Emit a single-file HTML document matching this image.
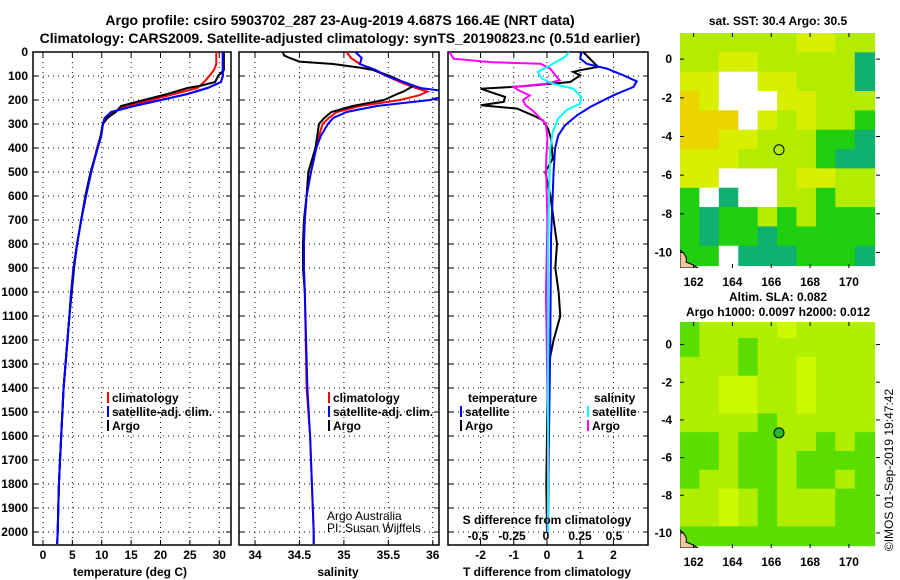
<!DOCTYPE html>
<html><head><meta charset="utf-8">
<style>
body{margin:0;background:#fff;}
svg{display:block;font-family:"Liberation Sans",Arial,sans-serif;}
text{font-weight:bold;font-size:12px;fill:#000;}
</style></head>
<body>
<svg id="chart" width="900" height="580" viewBox="0 0 900 580">
<text x="340" y="25" text-anchor="middle" style="font-size:14px">Argo profile: csiro 5903702_287 23-Aug-2019 4.687S 166.4E (NRT data)</text>
<text x="340" y="43" text-anchor="middle" style="font-size:14px">Climatology: CARS2009. Satellite-adjusted climatology: synTS_20190823.nc (0.51d earlier)</text>
</svg>
<script>
// ---- data ----
const depthTicks=[0,100,200,300,400,500,600,700,800,900,1000,1100,1200,1300,1400,1500,1600,1700,1800,1900,2000];
const tempTicks=[0,5,10,15,20,25,30];
const salTicks=[34,34.5,35,35.5,36];
const salTickLabels=["34","34.5","35","35.5","36"];
const tdTicks=[-2,-1,0,1,2];
const sdTicks=[-0.5,-0.25,0,0.25,0.5];
const sdTickLabels=["-0.5","-0.25","0","0.25","0.5"];

const tDepthClim=[0,50,75,100,125,150,175,200,225,250,275,300,350,400,500,600,700,800,900,1000,1100,1400,1600,1800,2000,2050];
const tClim=[29.5,29.5,29.1,28.3,27.4,26.3,22.3,18.4,14.1,12.1,11.0,10.2,9.8,9.2,8.2,7.3,6.5,5.8,5.2,4.8,4.5,3.5,3.1,2.7,2.5,2.4];
const tDepthSat=[0,100,125,150,175,200,225,250,275,300,350,400,500,600,700,800,900,1000,1100,1400,1600,1800,2000,2050];
const tSat=[30.6,30.6,30.3,28.0,24.6,20.1,15.5,11.6,10.5,10.2,9.9,9.3,8.2,7.3,6.5,5.8,5.2,4.8,4.5,3.5,3.1,2.7,2.5,2.4];
const tDepthArgo=[0,50,75,100,125,140,150,175,200,225,250,275,300,350,400,500,600,700,800,900,1000,1100,1400,1600,1800,2000];
const tArgo=[30.8,30.8,30.8,29.8,29.3,26.9,24.6,21.2,17.2,13.3,12.4,10.9,10.2,9.8,9.3,8.1,7.2,6.5,5.8,5.3,4.9,4.5,3.5,3.1,2.7,2.5];

const sDepthClim=[0,25,50,75,100,125,150,165,180,200,225,250,275,300,350,400,500,600,700,800,900,1000,1400,1600,1800,2000,2050];
const sClim=[35.03,35.08,35.18,35.33,35.48,35.63,35.81,35.94,35.85,35.63,35.18,34.92,34.83,34.76,34.72,34.69,34.63,34.58,34.56,34.55,34.55,34.56,34.58,34.62,34.64,34.66,34.66];
const sDepthSat=[0,25,50,75,100,125,150,160,175,190,200,225,250,275,300,350,400,500,600,700,800,900,1000,1400,1600,1800,2000,2050];
const sSat=[35.13,35.2,35.18,35.36,35.48,35.67,35.86,36.07,36.2,36.07,35.97,35.37,35.03,34.88,34.82,34.74,34.69,34.63,34.58,34.56,34.55,34.55,34.56,34.59,34.62,34.64,34.66,34.66];
const sDepthArgo=[0,15,25,40,50,65,75,100,125,140,150,165,175,200,225,250,275,300,350,400,500,600,700,800,900,1000];
const sArgo=[34.31,34.33,34.39,34.5,34.88,35.18,35.33,35.52,35.67,35.78,35.74,35.67,35.6,35.45,35.1,34.86,34.78,34.72,34.7,34.68,34.6,34.58,34.55,34.54,34.54,34.56];

const dDepthTArgo=[0,42,62,76,83,97,125,143,153,167,187,208,222,236,264,285,319,361,444,500,597,800,900,1000,1100,1200,1300,1400,1600,1800,2000];
const dTArgo=[1.09,1.39,1.54,1.0,0.79,1.0,0.7,-0.72,-2.0,-1.7,-1.26,-1.3,-2.0,-0.9,-0.42,-0.12,0.03,0.12,0.17,-0.05,0.1,0.3,0.25,0.35,0.4,0.2,0.05,0.02,0.0,-0.02,0.0];
const dDepthTSat=[0,28,49,69,97,122,146,174,201,229,264,306,347,403,500,778,1200,1600,2000];
const dTSat=[1.04,1.0,1.2,1.8,2.3,2.7,2.6,2.1,1.7,1.3,0.9,0.54,0.34,0.24,0.2,0.12,0.1,0.06,0.03];
const dDepthSSat=[0,20,56,83,111,132,153,187,215,243,278,333,403,800,1400,2000];
const dSSat=[0.17,0.14,0.03,-0.06,-0.03,0.05,0.2,0.26,0.25,0.15,0.09,0.05,0.03,0.015,0.015,0.015];
const dDepthSArgo=[0,28,42,49,69,97,118,132,146,160,181,201,222,243,278,299,361,472,700,1000,1400,1700,2000];
const dSArgo=[-0.71,-0.68,-0.41,-0.04,0.03,0.07,0.1,0.0,-0.24,-0.2,-0.12,-0.17,-0.15,-0.1,-0.04,0.0,0.01,0.0,0.01,0.0,0.01,0.02,0.01];

// map grids (1 degree cells, rows from north to south)
const sstGrid=["LLLLLLYYLL","LLYYLLLLLT","YYWWYYLLLT","OYWWWYYLLL","OOOWYLYLLG","OOYYLLLGGT","YYYLLLLGTT","YYWWWLYYLL","GWTWWLLGLL","GTGGLGLGGG","GTGGTGGGGG","GGWTTTGGGT"];
const slaGrid=["GLLLLYLLLL","GLLGLLLLLL","LLLGLLYLLL","LLYYLLYLLL","LLYYLLYLLL","LLLLGLLLLL","GGLGGLLGLG","GGLGGLGGGG","GLLGGLGGLG","LLYLGLLLGG","LLYLGLLLGG","GGGGGGGGGG"];
const lonTicks=[162,164,166,168,170];
const latTicks=[0,-2,-4,-6,-8,-10];

const svg=document.getElementById('chart');
const NS="http://www.w3.org/2000/svg";
function mk(tag,attrs,parent){const e=document.createElementNS(NS,tag);for(const k in attrs)e.setAttribute(k,attrs[k]);(parent||svg).appendChild(e);return e;}
function txt(x,y,s,anchor,parent,extra){const t=mk('text',Object.assign({x:x,y:y,'text-anchor':anchor||'start'},extra||{}),parent);t.textContent=s;return t;}

const Y0=52,PY=0.24,YB=545;
const yD=d=>Y0+d*PY;
const panels=[
 {x0:33,x1:231,min:-1.7,max:32.0,name:'temperature'},
 {x0:239,x1:439,min:33.82,max:36.07,name:'salinity'},
 {x0:448,x1:648,min:-2.98,max:3.04,name:'difference'}
];
function xf(p,v){return p.x0+(v-p.min)/(p.max-p.min)*(p.x1-p.x0);}
const sdX=v=>546+v*136;

// clip paths
const defs=mk('defs',{});
panels.forEach((p,i)=>{const c=mk('clipPath',{id:'clip'+i},defs);mk('rect',{x:p.x0,y:Y0,width:p.x1-p.x0,height:YB-Y0},c);});

panels.forEach((p,i)=>{
 const g=mk('g',{});
 
 
 // grid
 depthTicks.forEach(d=>{
  const l=mk('line',{x1:p.x0,x2:p.x1,y1:yD(d),y2:yD(d),stroke:'#000','stroke-width':1,'stroke-dasharray':'1,4'},g);
  
  
  mk('line',{x1:p.x0,x2:p.x0+5,y1:yD(d),y2:yD(d),stroke:'#000'},g);
  mk('line',{x1:p.x1-5,x2:p.x1,y1:yD(d),y2:yD(d),stroke:'#000'},g);
 });
 const xt=i==0?tempTicks:(i==1?salTicks:tdTicks);
 xt.forEach((v,k)=>{
  const x=xf(p,v);
  const l=mk('line',{x1:x,x2:x,y1:Y0,y2:YB,stroke:'#000','stroke-width':1,'stroke-dasharray':'1,4'},g);
  
  
  mk('line',{x1:x,x2:x,y1:YB-5,y2:YB,stroke:'#000'},g);
  mk('line',{x1:x,x2:x,y1:Y0,y2:Y0+5,stroke:'#000'},g);
  const lab=i==1?salTickLabels[k]:String(v);
  const t=txt(x,559,lab,'middle',g);
  
  
 });
 const fr=mk('rect',{x:p.x0,y:Y0,width:p.x1-p.x0,height:YB-Y0,fill:'none',stroke:'#000','stroke-width':1.5},g);
 
 
});

// y labels
depthTicks.forEach(d=>{
 const t=txt(28,yD(d)+4,String(d),'end');
 
 
});

// S diff ticks
sdTicks.forEach((v,k)=>{
 const t=txt(sdX(v),540,sdTickLabels[k],'middle');
 
 
});

function series(pi,depths,vals,color,name,xfun){
 const pts=depths.map((d,k)=>(xfun?xfun(vals[k]):xf(panels[pi],vals[k])).toFixed(1)+','+yD(d).toFixed(1)).join(' ');
 const pl=mk('polyline',{points:pts,fill:'none',stroke:color,'stroke-width':2,'clip-path':'url(#clip'+pi+')'});
 
 
}
series(0,tDepthClim,tClim,'#f00','temp-climatology-line');
series(0,tDepthSat,tSat,'#00f','temp-satellite-line');
series(0,tDepthArgo,tArgo,'#000','temp-argo-line');
series(0,tDepthSat,tSat,'#00f','temp-satellite-line-top');
series(1,sDepthClim,sClim,'#f00','sal-climatology-line');
series(1,sDepthArgo,sArgo,'#000','sal-argo-line');
series(1,sDepthSat,sSat,'#00f','sal-satellite-line');
series(2,dDepthTArgo,dTArgo,'#000','tdiff-argo-line');
series(2,dDepthTSat,dTSat,'#00f','tdiff-satellite-line');
series(2,dDepthSArgo,dSArgo,'#f0f','sdiff-argo-line',sdX);
series(2,dDepthSSat,dSSat,'#0ff','sdiff-satellite-line',sdX);

// axis titles
[[130,576,'temperature (deg C)','temperature-axis-title'],[338,576,'salinity','salinity-axis-title'],[547,576,'T difference from climatology','t-diff-axis-title'],[547,524,'S difference from climatology','s-diff-axis-title']].forEach(a=>{
 const t=txt(a[0],a[1],a[2],'middle');
 
 
});

// legends
function legend(x,y,color,label){
 const g=mk('g',{});
 
 
 mk('rect',{x:x,y:y-10,width:2,height:11,fill:color},g);
 txt(x+5,y,label,'start',g);
}
legend(107,402,'#f00','climatology');legend(107,416,'#00f','satellite-adj. clim.');legend(107,430,'#000','Argo');
legend(328,402,'#f00','climatology');legend(328,416,'#00f','satellite-adj. clim.');legend(328,430,'#000','Argo');
{const t=txt(468,402,'temperature','start');}
{const t=txt(594,402,'salinity','start');}
legend(460,416,'#00f','satellite');legend(460,430,'#000','Argo');
legend(587,416,'#0ff','satellite');legend(587,430,'#f0f','Argo');
{const t=txt(327,520,'Argo Australia','start',null,{style:'font-weight:normal'});}
{const t=txt(327,532,'PI: Susan Wijffels','start',null,{style:'font-weight:normal'});}

// maps
const sstCol={L:'#b4ec00',Y:'#d8f000',O:'#ecd400',W:'#ffffff',G:'#20d010',T:'#10b070'};
const slaCol={L:'#b0ee00',Y:'#ccf800',G:'#5ade00'};
function map(grid,cols,top,bottom,latTop,latBot,name){
 const x0=680,x1=880,lonL=161.3,lonR=171.6;
 const lx=v=>x0+(v-lonL)/(lonR-lonL)*(x1-x0);
 const ly=v=>top+(latTop-v)/(latTop-latBot)*(bottom-top);
 const g=mk('g',{});
 
 
 const cid='clipm'+name;const c=mk('clipPath',{id:cid},defs);mk('rect',{x:x0,y:top,width:x1-x0,height:bottom-top},c);
 const cg=mk('g',{'clip-path':'url(#'+cid+')'},g);
 grid.forEach((row,r)=>{[...row].forEach((ch,k)=>{
  const la=1.35-r,lo=161.3+k;
  const rc=mk('rect',{x:lx(lo),y:ly(la),width:lx(lo+1.05)-lx(lo),height:ly(la-1.05)-ly(la),fill:cols[ch]},cg);
  
  
 });});
 mk('path',{d:`M${x0} ${bottom-18} q8 6 6 12 q6 2 12 6 L${x0} ${bottom} Z`,fill:'#f0c8a0',stroke:'#000','stroke-width':1},cg);
 lonTicks.forEach(v=>{mk('line',{x1:lx(v),x2:lx(v),y1:top,y2:top+4,stroke:'#000'},g);mk('line',{x1:lx(v),x2:lx(v),y1:bottom-4,y2:bottom,stroke:'#000'},g);
  const t=txt(lx(v),bottom+18,String(v),'middle',g);});
 latTicks.forEach(v=>{mk('line',{x1:x0,x2:x0+4,y1:ly(v),y2:ly(v),stroke:'#000'},g);mk('line',{x1:x1-4,x2:x1,y1:ly(v),y2:ly(v),stroke:'#000'},g);
  const t=txt(672,ly(v)+4,String(v),'end',g);});
 const ci=mk('circle',{cx:lx(166.4),cy:ly(-4.687),r:5,fill:name=='sla-map'?'#20c020':'none',stroke:'#000','stroke-width':1},g);
 
 
}
map(sstGrid,sstCol,33,268,1.35,-10.8,'sst-map');
map(slaGrid,slaCol,322,548,1.2,-10.8,'sla-map');
[[778,25,'sat. SST: 30.4 Argo: 30.5','sst-map-title'],[778,301,'Altim. SLA: 0.082','sla-map-title'],[778,316,'Argo h1000: 0.0097 h2000: 0.012','sla-map-subtitle']].forEach(a=>{
 const t=txt(a[0],a[1],a[2],'middle');});
{const t=txt(0,0,'©IMOS 01-Sep-2019 19:47:42','middle',null,{transform:'translate(893,470) rotate(-90)',style:'font-weight:normal'});}
</script>
</body></html>
